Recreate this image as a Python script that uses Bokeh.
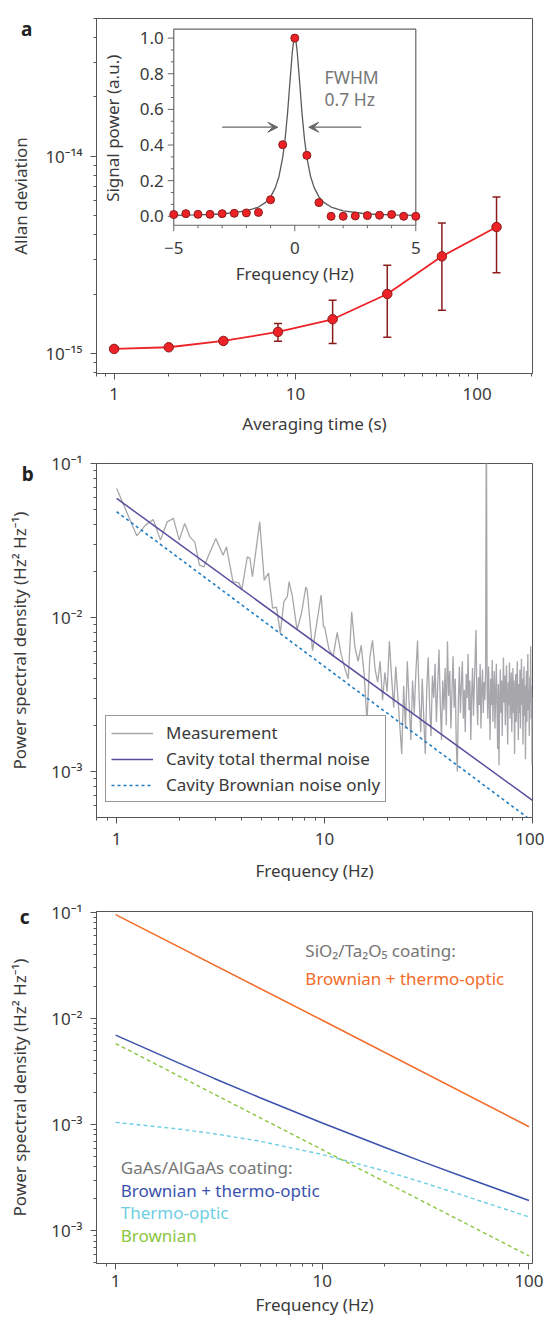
import math
from bokeh.plotting import figure
from bokeh.models import (Range1d, LinearScale, FixedTicker, CustomJSTickFormatter,
                          Whisker, TeeHead, ColumnDataSource, Label, Arrow, VeeHead,
                          Legend, LegendItem)
from bokeh.layouts import column
from bokeh.embed import file_html
from bokeh.resources import INLINE
from bokeh.core.properties import value

# ---------------- data: panel a ----------------
tau_s = [1, 2, 4, 8, 16, 32, 64, 128]
allan_dev = [1.055e-15, 1.076e-15, 1.158e-15, 1.287e-15, 1.492e-15, 2.005e-15, 3.11e-15, 4.38e-15]
err_tau = [8, 16, 32, 64, 128]
err_low = [1.154e-15, 1.124e-15, 1.21e-15, 1.658e-15, 2.57e-15]
err_high = [1.42e-15, 1.862e-15, 2.80e-15, 4.59e-15, 6.22e-15]

inset_freq = [-5.0, -4.5, -4.0, -3.5, -3.0, -2.5, -2.0, -1.5, -1.0, -0.5, 0.0,
              0.5, 1.0, 1.5, 2.0, 2.5, 3.0, 3.5, 4.0, 4.5, 5.0]
inset_power = [0.010, 0.015, 0.011, 0.011, 0.015, 0.017, 0.019, 0.022, 0.093, 0.402, 1.000,
               0.342, 0.077, 0.000, 0.000, 0.002, 0.004, 0.006, 0.010, 0.000, 0.000]
fit_freq = [-5.0, -4.0, -3.0, -2.0, -1.5, -1.2, -1.0, -0.8, -0.65, -0.5, -0.4, -0.3, -0.2,
            -0.1, -0.05, 0.0, 0.05, 0.1, 0.2, 0.3, 0.4, 0.5, 0.65, 0.8, 1.0, 1.2, 1.5, 2.0,
            3.0, 4.0, 5.0]
fit_power = [0.005, 0.008, 0.013, 0.030, 0.052, 0.078, 0.109, 0.161, 0.225, 0.329, 0.434,
             0.576, 0.754, 0.925, 0.980, 1.000, 0.980, 0.925, 0.754, 0.576, 0.434, 0.329,
             0.225, 0.161, 0.109, 0.078, 0.052, 0.030, 0.013, 0.008, 0.005]

a_x_ticks = [1, 10, 100]
a_x_labels = ["1", "10", "100"]
a_y_ticks = [1e-15, 1e-14]
a_y_labels = ["10\u207b\u00b9\u2075", "10\u207b\u00b9\u2074"]
inset_x_ticks = [-5, 0, 5]
inset_x_labels = ["\u22125", "0", "5"]
inset_y_ticks = [0.0, 0.2, 0.4, 0.6, 0.8, 1.0]
inset_y_labels = ["0.0", "0.2", "0.4", "0.6", "0.8", "1.0"]

# ---------------- data: panel b ----------------
meas_lo_freq = [1.0, 1.25, 1.375, 1.5, 1.625, 1.75, 1.875, 2.0, 2.125, 2.25, 2.375, 2.5,
                2.625, 2.75, 3.0, 3.25, 3.375, 3.625, 3.875, 4.0, 4.25, 4.375, 4.5, 4.875,
                5.125, 5.375, 5.625, 5.875, 6.125, 6.375, 6.625, 6.75, 7.0, 7.375, 7.75,
                8.125, 8.25, 8.75, 9.625, 9.875]
meas_lo_psd = [0.0689, 0.0339, 0.0398, 0.0433, 0.0318, 0.0418, 0.0440, 0.0318, 0.0408,
               0.0334, 0.0310, 0.0219, 0.0213, 0.0248, 0.0326, 0.0254, 0.0288, 0.0171,
               0.0168, 0.0151, 0.0248, 0.0242, 0.0184, 0.0418, 0.0175, 0.0194, 0.0115,
               0.0117, 0.0079, 0.0127, 0.0137, 0.0171, 0.0137, 0.0083, 0.0107, 0.0158,
               0.0151, 0.0061, 0.0140, 0.0087]
# 10 Hz .. 100 Hz, one value every 0.5 Hz
meas_hi_psd = [
    0.0087, 0.0062, 0.0056, 0.0080, 0.0058, 0.0047, 0.0040, 0.0109, 0.0064, 0.0052,
    0.0066, 0.0043, 0.0021, 0.0055, 0.0071, 0.0046, 0.0038, 0.0052, 0.0029, 0.0044,
    0.0033, 0.0070, 0.0041, 0.0026, 0.0048, 0.0031, 0.0020, 0.0013, 0.0036, 0.0019,
    0.0052, 0.0028, 0.0016, 0.0039, 0.0024, 0.0045, 0.0071, 0.0030, 0.0018, 0.0040,
    0.0022, 0.0013, 0.0034, 0.0055, 0.0027, 0.0017, 0.0042, 0.0030, 0.0050, 0.0021,
    0.0036, 0.0062, 0.0028, 0.0016, 0.0039, 0.0025, 0.0047, 0.0020, 0.0070, 0.0031,
    0.0045, 0.0019, 0.0033, 0.0056, 0.0026, 0.0040, 0.0015, 0.0010, 0.0029, 0.0048,
    0.0024, 0.0037, 0.0052, 0.0022, 0.0034, 0.0018, 0.0043, 0.0030, 0.0058, 0.0025,
    0.0039, 0.0016, 0.0032, 0.0047, 0.0023, 0.0036, 0.0055, 0.0083, 0.0030, 0.0020,
    0.0041, 0.0027, 0.0050, 0.0019, 0.0035, 0.0046, 0.0024, 0.0038, 0.0029, 0.0044,
    0.3000, 0.0034, 0.0022, 0.0048, 0.0030, 0.0016, 0.0040, 0.0027, 0.0053, 0.0021,
    0.0035, 0.0045, 0.0019, 0.0031, 0.0050, 0.0026, 0.0014, 0.0037, 0.0011, 0.0029,
    0.0046, 0.0024, 0.0039, 0.0017, 0.0033, 0.0055, 0.0028, 0.0042, 0.0020, 0.0036,
    0.0049, 0.0025, 0.0015, 0.0038, 0.0027, 0.0051, 0.0022, 0.0034, 0.0044, 0.0018,
    0.0031, 0.0047, 0.0024, 0.0039, 0.0013, 0.0028, 0.0043, 0.0021, 0.0035, 0.0052,
    0.0026, 0.0016, 0.0037, 0.0024, 0.0046, 0.0019, 0.0033, 0.0054, 0.0027, 0.0040,
    0.0015, 0.0031, 0.0048, 0.0023, 0.0036, 0.0012, 0.0029, 0.0045, 0.0021, 0.0038,
    0.0058, 0.0025, 0.0034, 0.0017, 0.0041, 0.0028, 0.0065, 0.0022, 0.0036, 0.0011,
    0.0030]
meas_hi_freq = [10.0 + 0.5 * i for i in range(len(meas_hi_psd))]

thermal_freq = [1, 100]
thermal_total = [0.0593, 6.49e-4]
thermal_brownian = [0.0486, 4.75e-4]

b_x_ticks = [1, 10, 100]
b_x_labels = ["1", "10", "100"]
b_y_ticks = [1e-3, 1e-2, 1e-1]
b_y_labels = ["10\u207b\u00b3", "10\u207b\u00b2", "10\u207b\u00b9"]
legend_labels = ["Measurement", "Cavity total thermal noise", "Cavity Brownian noise only"]

# ---------------- data: panel c ----------------
sio2_freq = [1, 10, 100]
sio2_total = [0.095, 0.0096, 0.000955]
gaas_freq = [1, 2, 3, 5, 10, 20, 30, 50, 100]
gaas_total = [6.95e-3, 3.83e-3, 2.72e-3, 1.79e-3, 1.036e-3, 6.12e-4, 4.53e-4, 3.14e-4, 1.93e-4]
gaas_thermo = [1.05e-3, 9.10e-4, 8.20e-4, 6.97e-4, 5.23e-4, 3.66e-4, 2.89e-4, 2.10e-4, 1.35e-4]
brown_freq = [1, 10, 100]
gaas_brownian = [5.8e-3, 5.8e-4, 5.8e-5]

c_x_ticks = [1, 10, 100]
c_x_labels = ["1", "10", "100"]
c_y_ticks = [1e-4, 1e-3, 1e-2, 1e-1]
c_y_labels = ["10\u207b\u00b3", "10\u207b\u00b3", "10\u207b\u00b2", "10\u207b\u00b9"]

# ---------------- styling ----------------
FONT = "Noto Sans"
AX = "#555555"
TXT = "#3a3a3a"
GRAYTXT = "#767676"
RED = "#ec2227"
DARKRED = "#8b1c1c"
ORANGE = "#f26c2a"
GBLUE = "#3a52ad"
CYAN = "#6fcfe2"
GREEN = "#8cc63f"
W = 544


def fmt(ticks, labels):
    exps = [round(math.log10(t)) for t in ticks]
    return CustomJSTickFormatter(args=dict(exps=exps, texts=labels), code="""
        const e = Math.round(Math.log10(tick));
        const i = exps.indexOf(e);
        return i >= 0 ? texts[i] : "";
    """)


def decade_minors(e0, e1, extra=()):
    return [m * 10.0 ** e for e in range(e0, e1) for m in range(2, 10)] + list(extra)


def make_fig(height, xr, yr, top, bottom):
    p = figure(width=W, height=height, x_axis_type="log", y_axis_type="log",
               x_range=xr, y_range=yr, min_border_left=96, min_border_right=12,
               min_border_top=top, min_border_bottom=bottom,
               output_backend="svg", toolbar_location=None)
    p.xgrid.visible = False
    p.ygrid.visible = False
    p.outline_line_color = AX
    p.outline_line_width = 1
    p.background_fill_color = "white"
    p.border_fill_color = "white"
    for ax in (p.xaxis[0], p.yaxis[0]):
        ax.axis_line_color = AX
        ax.major_tick_line_color = AX
        ax.minor_tick_line_color = AX
        ax.major_tick_out = 6
        ax.major_tick_in = 0
        ax.minor_tick_out = 3
        ax.minor_tick_in = 0
        ax.major_label_text_font = FONT
        ax.major_label_text_font_size = "17px"
        ax.major_label_text_color = TXT
        ax.axis_label_text_font = FONT
        ax.axis_label_text_font_size = "17px"
        ax.axis_label_text_font_style = "normal"
        ax.axis_label_text_color = TXT
    return p


def panel_letter(p, letter, x, y):
    # placed in the (otherwise empty) right side panel so it is not clipped to the frame;
    # data units keep it at its position left of the y axis
    p.add_layout(Label(x=x, y=y, text=letter,
                       text_font=FONT, text_font_size="19px", text_font_style="bold",
                       text_color="#222222", text_align="left", text_baseline="alphabetic"),
                 "right")


# ================= panel a =================
pa = make_fig(447, Range1d(0.8, 202), Range1d(7.92e-16, 5.0e-14), 18, 74)
pa.xaxis.ticker = FixedTicker(ticks=a_x_ticks, minor_ticks=decade_minors(0, 2, (0.8, 0.9, 200)))
pa.xaxis.formatter = fmt(a_x_ticks, a_x_labels)
pa.yaxis.ticker = FixedTicker(ticks=a_y_ticks,
                              minor_ticks=decade_minors(-15, -14, (8e-16, 9e-16, 2e-14, 3e-14, 4e-14, 5e-14)))
pa.yaxis.formatter = fmt(a_y_ticks, a_y_labels)
pa.xaxis.axis_label = "Averaging time (s)"
pa.yaxis.axis_label = "Allan deviation"
pa.xaxis.major_label_standoff = 8
pa.xaxis.axis_label_standoff = 9
pa.yaxis.major_label_standoff = 8
pa.yaxis.axis_label_standoff = 10

err_src = ColumnDataSource(dict(x=err_tau, lo=err_low, hi=err_high))
pa.add_layout(Whisker(source=err_src, base="x", lower="lo", upper="hi", dimension="height",
                      line_color=DARKRED, line_width=1.5,
                      lower_head=TeeHead(size=8, line_color=DARKRED, line_width=1.5),
                      upper_head=TeeHead(size=8, line_color=DARKRED, line_width=1.5)))
pa.line(tau_s, allan_dev, line_color=RED, line_width=1.8)
pa.scatter(tau_s, allan_dev, size=9.5, fill_color=RED, line_color=DARKRED, line_width=1)

# inset drawn on linear extra ranges inside the same frame
pa.extra_x_ranges = {"ix": Range1d(-8.192, 9.822)}
pa.extra_y_ranges = {"iy": Range1d(-0.882, 1.110)}
pa.extra_x_scales = {"ix": LinearScale()}
pa.extra_y_scales = {"iy": LinearScale()}
IX = dict(x_range_name="ix", y_range_name="iy")
IB, IT = -0.05, 1.05   # inset box bottom/top (y), x box is -5..5

pa.quad(left=[-5], right=[5], bottom=[IB], top=[IT], fill_color="white",
        line_color="#666666", line_width=1.2, **IX)
inset_x_minor = [-4, -3, -2, -1, 1, 2, 3, 4]
inset_y_minor = [round(t + d, 4) for t in inset_y_ticks[:-1] for d in (0.2 / 3, 0.4 / 3)]
pa.ray(x=inset_x_ticks, y=[IB] * len(inset_x_ticks), length=6, length_units="screen",
       angle=-math.pi / 2, line_color="#666666", line_width=1, **IX)
pa.ray(x=inset_x_minor, y=[IB] * len(inset_x_minor), length=3, length_units="screen",
       angle=-math.pi / 2, line_color="#666666", line_width=1, **IX)
pa.ray(x=[-5] * len(inset_y_ticks), y=inset_y_ticks, length=6, length_units="screen",
       angle=math.pi, line_color="#666666", line_width=1, **IX)
pa.ray(x=[-5] * len(inset_y_minor), y=inset_y_minor, length=3, length_units="screen",
       angle=math.pi, line_color="#666666", line_width=1, **IX)
pa.text(x=[-5] * len(inset_y_ticks), y=inset_y_ticks, text=inset_y_labels, x_offset=-10,
        text_align="right", text_baseline="middle", text_font=value(FONT),
        text_font_size="17px", text_color=TXT, **IX)
pa.text(x=inset_x_ticks, y=[-0.178] * len(inset_x_ticks), text=inset_x_labels,
        text_align="center", text_baseline="middle", text_font=value(FONT),
        text_font_size="17px", text_color=TXT, **IX)
pa.text(x=[0], y=[-0.322], text=["Frequency (Hz)"], text_align="center",
        text_baseline="middle", text_font=value(FONT), text_font_size="17px",
        text_color=TXT, **IX)
pa.text(x=[-7.55], y=[0.494], text=["Signal power (a.u.)"], angle=math.pi / 2,
        text_align="center", text_baseline="middle", text_font=value(FONT),
        text_font_size="17px", text_color=TXT, **IX)
pa.line(fit_freq, fit_power, line_color="#5a5a5a", line_width=1.3, **IX)
pa.scatter(inset_freq, inset_power, size=8, fill_color=RED, line_color=DARKRED,
           line_width=1, **IX)
pa.text(x=[1.23, 1.23], y=[0.781, 0.660], text=["FWHM", "0.7 Hz"], text_align="left",
        text_baseline="middle", text_font=value(FONT), text_font_size="17.5px",
        text_color=GRAYTXT, **IX)
for xs, xe in ((-3.0, -0.7), (2.75, 0.58)):
    pa.add_layout(Arrow(x_start=xs, y_start=0.5, x_end=xe, y_end=0.5, line_color="#666666",
                        line_width=1.3,
                        end=VeeHead(size=10, line_color="#666666", fill_color="#666666",
                                    line_width=1), **IX))
panel_letter(pa, "a", 0.307, 4.44e-14)

# ================= panel b =================
pb = make_fig(445, Range1d(0.8, 100), Range1d(5.03e-4, 0.1), 16, 75)
pb.xaxis.ticker = FixedTicker(ticks=b_x_ticks, minor_ticks=decade_minors(0, 2, (0.8, 0.9)))
pb.xaxis.formatter = fmt(b_x_ticks, b_x_labels)
pb.yaxis.ticker = FixedTicker(ticks=b_y_ticks, minor_ticks=decade_minors(-4, -1))
pb.yaxis.formatter = fmt(b_y_ticks, b_y_labels)
pb.xaxis.axis_label = "Frequency (Hz)"
pb.yaxis.axis_label = "Power spectral density (Hz\u00b2 Hz\u207b\u00b9)"
pb.xaxis.major_label_standoff = 9
pb.xaxis.axis_label_standoff = 11
pb.yaxis.major_label_standoff = 8
pb.yaxis.axis_label_standoff = 17

r_meas = pb.line(meas_lo_freq + meas_hi_freq, meas_lo_psd + meas_hi_psd,
                 line_color="#a7a7ab", line_width=1.3)
r_tot = pb.line(thermal_freq, thermal_total, line_color="#5b4c9e", line_width=1.5)
r_brn = pb.line(thermal_freq, thermal_brownian, line_color="#1f7dc3", line_width=1.6,
                line_dash="3 3")
legend = Legend(items=[LegendItem(label=legend_labels[0], renderers=[r_meas]),
                       LegendItem(label=legend_labels[1], renderers=[r_tot]),
                       LegendItem(label=legend_labels[2], renderers=[r_brn])],
                location=(9, 15), padding=5, spacing=3, margin=0, glyph_width=42,
                glyph_height=20, label_height=20, label_width=210, label_standoff=13,
                label_text_font=FONT, label_text_font_size="17px", label_text_color=TXT,
                border_line_color="#333333", border_line_width=1,
                background_fill_color="white", background_fill_alpha=1)
pb.add_layout(legend)
panel_letter(pb, "b", 0.350, 0.0861)

# ================= panel c =================
pc = make_fig(432, Range1d(0.808, 104), Range1d(4.92e-5, 0.1015), 19, 61)
pc.xaxis.ticker = FixedTicker(ticks=c_x_ticks, minor_ticks=decade_minors(0, 2, (0.9,)))
pc.xaxis.formatter = fmt(c_x_ticks, c_x_labels)
pc.yaxis.ticker = FixedTicker(ticks=c_y_ticks, minor_ticks=decade_minors(-5, -1))
pc.yaxis.formatter = fmt(c_y_ticks, c_y_labels)
pc.xaxis.axis_label = "Frequency (Hz)"
pc.yaxis.axis_label = "Power spectral density (Hz\u00b2 Hz\u207b\u00b9)"
pc.xaxis.major_label_standoff = 5
pc.xaxis.axis_label_standoff = 3
pc.yaxis.major_label_standoff = 8
pc.yaxis.axis_label_standoff = 17

pc.line(sio2_freq, sio2_total, line_color=ORANGE, line_width=1.5)
pc.line(gaas_freq, gaas_total, line_color=GBLUE, line_width=1.5)
pc.line(gaas_freq, gaas_thermo, line_color=CYAN, line_width=1.4, line_dash="4 3")
pc.line(brown_freq, gaas_brownian, line_color=GREEN, line_width=1.4, line_dash="4 3")

ann_src = ColumnDataSource(dict(
    x=[8.28, 8.28, 1.059, 1.059, 1.059, 1.059],
    y=[0.0435, 0.0236, 3.95e-4, 2.42e-4, 1.488e-4, 8.97e-5],
    text=["SiO\u2082/Ta\u2082O\u2085 coating:", "Brownian + thermo-optic",
          "GaAs/AlGaAs coating:", "Brownian + thermo-optic", "Thermo-optic", "Brownian"],
    color=[GRAYTXT, ORANGE, GRAYTXT, GBLUE, CYAN, GREEN]))
pc.text(x="x", y="y", text="text", text_color="color", source=ann_src, text_align="left",
        text_baseline="middle", text_font=value(FONT), text_font_size="17px")
panel_letter(pc, "c", 0.344, 0.0897)

layout = column(pa, pb, pc, spacing=0)
open("out.html", "w").write(file_html(layout, INLINE))
